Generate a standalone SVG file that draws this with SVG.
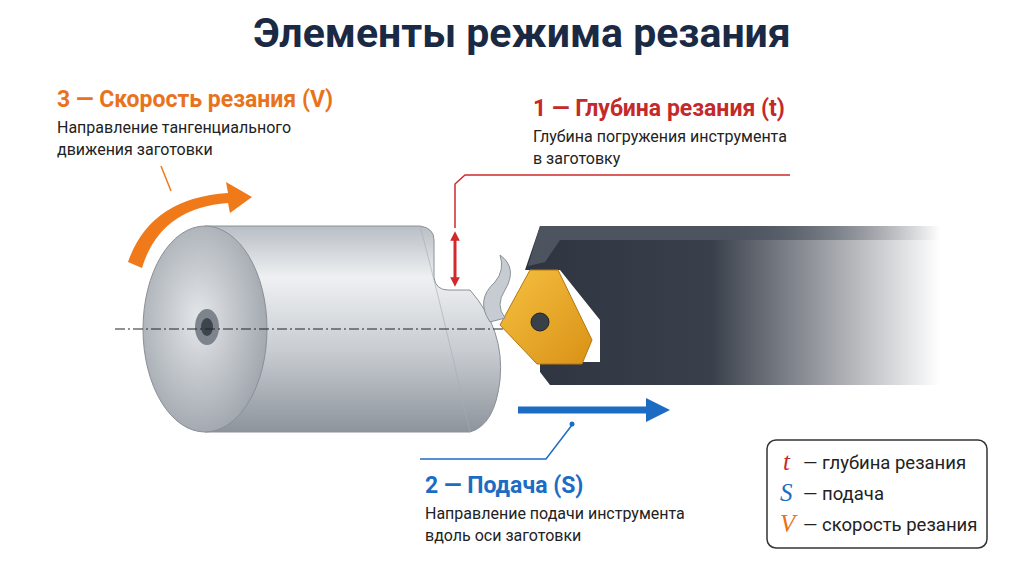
<svg xmlns="http://www.w3.org/2000/svg" width="1024" height="582" viewBox="0 0 1024 582">
<style>
.t{font-family:"Roboto","Liberation Sans",sans-serif}
.h{font-weight:bold;font-size:23px}
.s{font-size:16px;fill:#222}
.lg{font-size:18.5px;fill:#222}
.var{font-family:"Liberation Serif",serif;font-style:italic;font-size:25px}
</style>
<defs>
<linearGradient id="cyl" x1="0" y1="0" x2="0" y2="1">
<stop offset="0" stop-color="#b9bec5"/><stop offset="0.25" stop-color="#eef0f2"/><stop offset="0.6" stop-color="#c9cdd2"/><stop offset="1" stop-color="#8e949c"/>
</linearGradient>
<radialGradient id="face" cx="0.45" cy="0.45" r="0.6">
<stop offset="0" stop-color="#e4e7ea"/><stop offset="1" stop-color="#9ea4ab"/>
</radialGradient>
<linearGradient id="holder" x1="0" y1="0" x2="1" y2="0">
<stop offset="0" stop-color="#2f3540"/><stop offset="0.45" stop-color="#3a404b"/><stop offset="1" stop-color="#3a404b" stop-opacity="0"/>
</linearGradient>
<linearGradient id="bevel" x1="0" y1="0" x2="1" y2="0">
<stop offset="0" stop-color="#4d5460"/><stop offset="0.45" stop-color="#4d5460"/><stop offset="1" stop-color="#4d5460" stop-opacity="0"/>
</linearGradient>
<linearGradient id="ins" x1="0" y1="0" x2="1" y2="1">
<stop offset="0" stop-color="#f6c040"/><stop offset="1" stop-color="#d99216"/>
</linearGradient>
<marker id="ar" viewBox="0 0 10 10" refX="5" refY="5" markerWidth="3.2" markerHeight="3.2" orient="auto-start-reverse"><path d="M0,0L10,5L0,10z" fill="#d02a2a"/></marker>
</defs>
<rect width="1024" height="582" fill="#fff"/>
<text class="t" x="522" y="47" text-anchor="middle" font-size="41" font-weight="bold" fill="#1a2a44">Элементы режима резания</text>

<g id="workpiece">
<path d="M205,226 L420,226 Q434,228 434,240 L434,278 Q436,290 448,290 L470,290 Q505,330 500,380 Q495,425 470,432 L205,432 Z" fill="url(#cyl)" stroke="#8a9098" stroke-width="1"/>
<path d="M420,226 Q440,300 470,432" fill="none" stroke="#a5abb2" stroke-width="1" opacity="0.6"/>
<ellipse cx="205" cy="329" rx="62" ry="103" fill="url(#face)" stroke="#8a9098"/>
<ellipse cx="207" cy="327" rx="12" ry="18" fill="#7d848c"/>
<ellipse cx="207" cy="327" rx="6" ry="9" fill="#3e444c"/>
<line x1="115" y1="329" x2="515" y2="329" stroke="#222" stroke-width="1" stroke-dasharray="10,3,2,3"/>
</g>

<g id="tool">
<path d="M540,226 L940,226 L940,385 L550,385 L540,372 L540,362 L600,362 L600,320 L560,270 L525,270 Z" fill="url(#holder)"/>
<path d="M540,226 L940,226 L940,240 L560,240 L545,262 L528,266 Z" fill="url(#bevel)"/>
<path d="M530,270 L558,270 L592,340 L582,364 L537,364 L500,325 Z" fill="url(#ins)" stroke="#b47810" stroke-width="1"/>
<circle cx="540" cy="322" r="9" fill="#3a4048" stroke="#222"/>
<path d="M490,322 Q475,300 495,282 Q505,270 500,255 Q518,268 505,290 Q495,305 505,318 Z" fill="#c7ccd2" stroke="#8a9098"/>
</g>

<g id="connectors">
<line x1="455" y1="236" x2="455" y2="282" stroke="#d02a2a" stroke-width="3" marker-start="url(#ar)" marker-end="url(#ar)"/>
<path d="M455,228 L455,184 L465,175 L790,175" fill="none" stroke="#d02a2a" stroke-width="1.5"/>
<line x1="518" y1="410" x2="648" y2="410" stroke="#1d6cc4" stroke-width="7"/>
<path d="M646,398 L670,410 L646,422 Z" fill="#1d6cc4"/>
<path d="M572,425 L546,459 L420,459" fill="none" stroke="#1d6cc4" stroke-width="1.5"/>
<circle cx="572" cy="424" r="2.5" fill="#1d6cc4"/>
<path d="M128,262 Q150,198 228,193 L226,182 L252,197 L230,213 L228,203 Q160,208 142,268 Z" fill="#f07a1a"/>
<line x1="171" y1="191" x2="161" y2="166" stroke="#f07a1a" stroke-width="1.5"/>
</g>

<g id="label-v">
<text class="t h" x="57" y="107" fill="#e8731c">3 — Скорость резания (V)</text>
<text class="t s" x="57" y="133">Направление тангенциального</text>
<text class="t s" x="57" y="155">движения заготовки</text>
</g>
<g id="label-t">
<text class="t h" x="533" y="116" fill="#c42a2a">1 — Глубина резания (t)</text>
<text class="t s" x="533" y="142">Глубина погружения инструмента</text>
<text class="t s" x="533" y="164">в заготовку</text>
</g>
<g id="label-s">
<text class="t h" x="425" y="493" fill="#1d6cc4">2 — Подача (S)</text>
<text class="t s" x="425" y="519">Направление подачи инструмента</text>
<text class="t s" x="425" y="541">вдоль оси заготовки</text>
</g>
<g id="legend">
<rect x="767" y="440" width="220" height="108" rx="9" fill="#fff" stroke="#333" stroke-width="1.5"/>
<text class="var" x="783" y="470" fill="#c42a2a">t</text>
<text class="var" x="780" y="501" fill="#1d6cc4">S</text>
<text class="var" x="780" y="532" fill="#e8731c">V</text>
<text class="t lg" x="803" y="469">— глубина резания</text>
<text class="t lg" x="803" y="500">— подача</text>
<text class="t lg" x="803" y="531">— скорость резания</text>
</g>
</svg>
